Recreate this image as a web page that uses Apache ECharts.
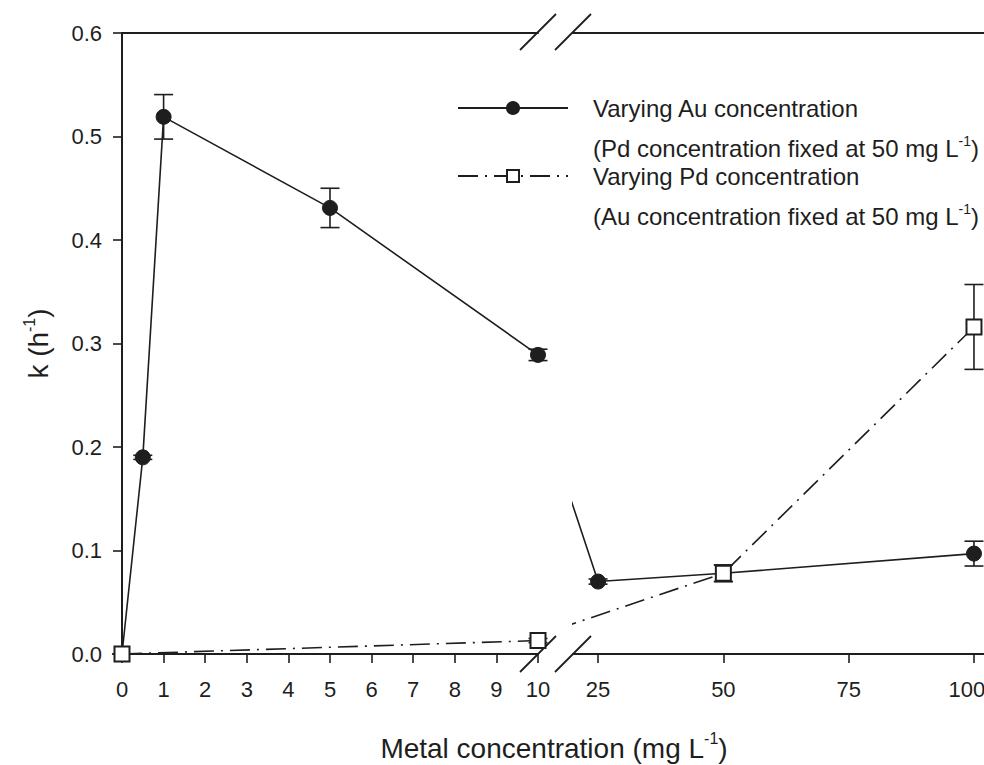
<!DOCTYPE html>
<html>
<head>
<meta charset="utf-8">
<script src="https://cdn.jsdelivr.net/npm/echarts@6/dist/echarts.min.js"></script>
<style>
  html, body { margin: 0; padding: 0; background: #fff; }
  #chart { width: 984px; height: 765px; }
</style>
</head>
<body>
<div id="chart"></div>
<script>
// Rate constant k versus metal concentration (broken x axis: 0–10 | 25–100)
const auLowX   = [0, 0.5, 1, 5, 10];
const auLowK   = [0, 0.19, 0.519, 0.431, 0.289];
const auLowErr = [0, 0.002, 0.0215, 0.019, 0.0055];

const auHighX   = [25, 50, 100];
const auHighK   = [0.070, 0.078, 0.097];
const auHighErr = [0.0025, 0.008, 0.012];

const pdLowX   = [0, 10];
const pdLowK   = [0, 0.013];
const pdLowErr = [0, 0.002];

const pdHighX   = [50, 100];
const pdHighK   = [0.078, 0.316];
const pdHighErr = [0.008, 0.041];

const lowTicks  = [0, 1, 2, 3, 4, 5, 6, 7, 8, 9, 10];
const highTicks = [25, 50, 75, 100];
const yTicks    = [0, 0.1, 0.2, 0.3, 0.4, 0.5, 0.6];

const INK = '#1e1e1e';
const FONT = '"Liberation Sans", Arial, Helvetica, sans-serif';
const TICK_FONT = 22;
const dashDot = [20, 7, 2, 7];

const pairs = (xs, ys) => xs.map((x, i) => [x, ys[i]]);
const errRows = (xs, ys, es) => xs.map((x, i) => [x, ys[i] - es[i], ys[i] + es[i]]);

function errorBar(params, api) {
  const x = api.value(0);
  const lo = api.coord([x, api.value(1)]);
  const hi = api.coord([x, api.value(2)]);
  const w = 9.5;
  const style = { stroke: INK, lineWidth: 1.6 };
  return {
    type: 'group',
    children: [
      { type: 'line', shape: { x1: hi[0], y1: hi[1], x2: lo[0], y2: lo[1] }, style },
      { type: 'line', shape: { x1: hi[0] - w, y1: hi[1], x2: hi[0] + w, y2: hi[1] }, style },
      { type: 'line', shape: { x1: lo[0] - w, y1: lo[1], x2: lo[0] + w, y2: lo[1] }, style }
    ]
  };
}

// lines crossing the break start from the last point of the low segment
const auBridge = { value: [auLowX[auLowX.length - 1], auLowK[auLowK.length - 1]], symbol: 'none' };
const pdBridge = { value: [pdLowX[pdLowX.length - 1], pdLowK[pdLowK.length - 1]], symbol: 'none' };

const auName = 'Varying Au concentration';
const pdName = 'Varying Pd concentration';

const auLine = { color: INK, width: 1.6, type: 'solid' };
const pdLine = { color: INK, width: 1.6, type: dashDot };
const auItem = { color: INK, borderColor: INK, borderWidth: 1 };
const pdItem = { color: '#ffffff', borderColor: INK, borderWidth: 2 };

const richText = {
  n:   { fontFamily: FONT, fontSize: 24, color: INK, lineHeight: 40, verticalAlign: 'middle' },
  sup: { fontFamily: FONT, fontSize: 14, color: INK, lineHeight: 16, verticalAlign: 'middle',
         padding: [0, 0, 14, 0] }
};

const legendText = {
  [auName]: '{n|Varying Au concentration}\n{n|(Pd concentration fixed at 50 mg L}{sup|-1}{n|)}',
  [pdName]: '{n|Varying Pd concentration}\n{n|(Au concentration fixed at 50 mg L}{sup|-1}{n|)}'
};

function legendFor(name, top) {
  return {
    data: [name],
    left: 457,
    top: top,
    padding: 0,
    itemWidth: 110,
    itemHeight: 15,
    selectedMode: false,
    formatter: (n) => legendText[n],
    textStyle: { padding: [40, 0, 0, 20], rich: richText }
  };
}

const xLabelFormatter = (v) => (v === 100 ? '{edge|100}' : '{n|' + v + '}');
const xLabelRich = {
  n: { fontFamily: FONT, fontSize: TICK_FONT, color: INK },
  edge: { fontFamily: FONT, fontSize: TICK_FONT, color: INK, padding: [0, 14, 0, 0] }
};

const xAxisBase = {
  type: 'value',
  axisLine: { show: true, onZero: false, lineStyle: { color: INK, width: 2 } },
  axisTick: { show: true, inside: false, length: 9, lineStyle: { color: INK, width: 1.6 } },
  axisLabel: { color: INK, fontFamily: FONT, fontSize: TICK_FONT, margin: 24,
               formatter: xLabelFormatter, rich: xLabelRich },
  splitLine: { show: false }
};

const topAxis = (gridIndex, min, max) => ({
  type: 'value', gridIndex, position: 'top', min, max,
  axisLine: { show: true, onZero: false, lineStyle: { color: INK, width: 2 } },
  axisTick: { show: false }, axisLabel: { show: false }, splitLine: { show: false }
});

const option = {
  animation: false,
  backgroundColor: '#ffffff',
  textStyle: { fontFamily: FONT },
  grid: [
    { left: 122, top: 33, width: 416, height: 621, outerBoundsMode: 'none', containLabel: false },
    { left: 573, top: 33, width: 411, height: 621, outerBoundsMode: 'none', containLabel: false }
  ],
  xAxis: [
    Object.assign({}, xAxisBase, {
      gridIndex: 0, min: 0, max: 10, interval: 1,
      axisTick: Object.assign({}, xAxisBase.axisTick, { customValues: lowTicks }),
      axisLabel: Object.assign({}, xAxisBase.axisLabel, { customValues: lowTicks })
    }),
    Object.assign({}, xAxisBase, {
      gridIndex: 1, min: 20, max: 102,
      axisTick: Object.assign({}, xAxisBase.axisTick, { customValues: highTicks }),
      axisLabel: Object.assign({}, xAxisBase.axisLabel, { customValues: highTicks })
    }),
    topAxis(0, 0, 10),
    topAxis(1, 20, 102)
  ],
  yAxis: [
    {
      type: 'value', gridIndex: 0, min: 0, max: 0.6, interval: 0.1,
      name: '{n|k (h}{sup|-1}{n|)}',
      nameLocation: 'middle', nameGap: 67, nameRotate: 90,
      nameTextStyle: { rich: {
        n: { fontFamily: FONT, fontSize: 28, color: INK, lineHeight: 34 },
        sup: { fontFamily: FONT, fontSize: 16, color: INK, lineHeight: 22, verticalAlign: 'top' }
      }, fontFamily: FONT, fontSize: 28, color: INK },
      axisLine: { show: true, onZero: false, lineStyle: { color: INK, width: 2 } },
      axisTick: { show: true, inside: false, length: 9, lineStyle: { color: INK, width: 1.6 }, customValues: yTicks },
      axisLabel: { color: INK, fontFamily: FONT, fontSize: TICK_FONT, margin: 20, customValues: yTicks,
                   formatter: (v) => v.toFixed(1) },
      splitLine: { show: false }
    },
    {
      type: 'value', gridIndex: 1, min: 0, max: 0.6, interval: 0.1, show: false
    }
  ],
  legend: [legendFor(auName, 96), legendFor(pdName, 164)],
  series: [
    // error bars (drawn underneath the markers)
    { type: 'custom', xAxisIndex: 0, yAxisIndex: 0, renderItem: errorBar, z: 1,
      data: errRows(auLowX, auLowK, auLowErr) },
    { type: 'custom', xAxisIndex: 0, yAxisIndex: 0, renderItem: errorBar, z: 1,
      data: errRows(pdLowX, pdLowK, pdLowErr) },
    { type: 'custom', xAxisIndex: 1, yAxisIndex: 1, renderItem: errorBar, z: 1,
      data: errRows(auHighX, auHighK, auHighErr) },
    { type: 'custom', xAxisIndex: 1, yAxisIndex: 1, renderItem: errorBar, z: 1,
      data: errRows(pdHighX, pdHighK, pdHighErr) },

    // Au series
    { name: auName, type: 'line', xAxisIndex: 0, yAxisIndex: 0, z: 3,
      symbol: 'circle', symbolSize: 15, lineStyle: auLine, itemStyle: auItem,
      data: pairs(auLowX, auLowK) },
    { name: auName, type: 'line', xAxisIndex: 1, yAxisIndex: 1, z: 3, clip: true,
      symbol: 'circle', symbolSize: 15, lineStyle: auLine, itemStyle: auItem,
      data: [auBridge].concat(pairs(auHighX, auHighK)) },

    // Pd series
    { name: pdName, type: 'line', xAxisIndex: 0, yAxisIndex: 0, z: 4,
      symbol: 'rect', symbolSize: 15, lineStyle: pdLine, itemStyle: pdItem,
      data: pairs(pdLowX, pdLowK) },
    { name: pdName, type: 'line', xAxisIndex: 1, yAxisIndex: 1, z: 4, clip: true,
      symbol: 'rect', symbolSize: 15, lineStyle: pdLine, itemStyle: pdItem,
      data: [pdBridge].concat(pairs(pdHighX, pdHighK)) }
  ],
  graphic: [
    // axis break marks
    { type: 'line', shape: { x1: 520, y1: 672, x2: 556, y2: 636 }, style: { stroke: INK, lineWidth: 1.8 } },
    { type: 'line', shape: { x1: 555, y1: 672, x2: 591, y2: 636 }, style: { stroke: INK, lineWidth: 1.8 } },
    { type: 'line', shape: { x1: 520, y1: 50, x2: 556, y2: 14 }, style: { stroke: INK, lineWidth: 1.8 } },
    { type: 'line', shape: { x1: 555, y1: 50, x2: 591, y2: 14 }, style: { stroke: INK, lineWidth: 1.8 } },
    // x axis title, centred under the plot area
    {
      type: 'text', x: 554, y: 748,
      style: {
        text: '{n|Metal concentration (mg L}{sup|-1}{n|)}',
        align: 'center', verticalAlign: 'middle',
        rich: {
          n: { fontFamily: FONT, fontSize: 28, fill: INK, lineHeight: 36 },
          sup: { fontFamily: FONT, fontSize: 16, fill: INK, lineHeight: 22, verticalAlign: 'top' }
        }
      }
    }
  ]
};

const chart = echarts.init(document.getElementById('chart'), null, { renderer: 'svg' });
chart.setOption(option);
</script>
</body>
</html>
